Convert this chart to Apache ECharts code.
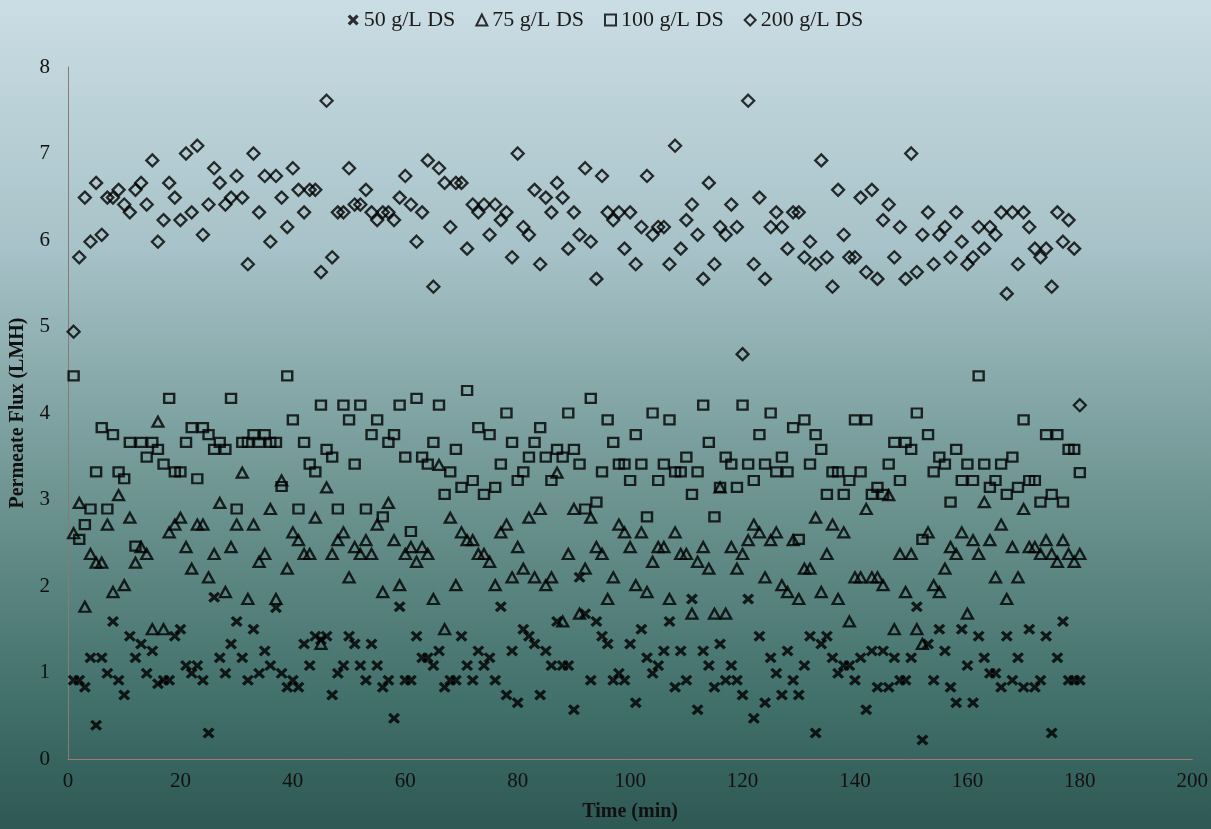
<!DOCTYPE html>
<html>
<head>
<meta charset="utf-8">
<title>Permeate Flux</title>
<script src="https://cdn.jsdelivr.net/npm/echarts@6/dist/echarts.min.js"></script>
<style>
  html, body { margin: 0; padding: 0; }
  #chart { width: 1211px; height: 829px; }
</style>
</head>
<body>
<div id="chart"></div>
<script>
// one reading per minute, starting at minute 1
const seriesNames = ["50 g/L DS", "75 g/L DS", "100 g/L DS", "200 g/L DS"];

const flux50 = [
  0.91, 0.91, 0.83, 1.17, 0.39, 1.17, 0.99, 1.59, 0.91, 0.74,
  1.42, 1.17, 1.33, 0.99, 1.25, 0.87, 0.91, 0.91, 1.42, 1.50,
  1.08, 0.99, 1.08, 0.91, 0.30, 1.87, 1.17, 0.99, 1.33, 1.59,
  1.17, 0.91, 1.50, 0.99, 1.25, 1.08, 1.75, 0.99, 0.83, 0.91,
  0.83, 1.33, 1.08, 1.42, 1.38, 1.42, 0.74, 0.99, 1.08, 1.42,
  1.33, 1.08, 0.91, 1.33, 1.08, 0.83, 0.91, 0.47, 1.76, 0.91,
  0.91, 1.42, 1.17, 1.17, 1.08, 1.25, 0.83, 0.91, 0.91, 1.42,
  1.08, 0.91, 1.25, 1.08, 1.17, 0.91, 1.76, 0.74, 1.25, 0.65,
  1.50, 1.42, 1.33, 0.74, 1.25, 1.08, 1.59, 1.08, 1.08, 0.57,
  2.10, 1.68, 0.91, 1.59, 1.42, 1.33, 0.91, 0.99, 0.91, 1.33,
  0.65, 1.50, 1.17, 0.99, 1.08, 1.25, 1.59, 0.83, 1.25, 0.91,
  1.85, 0.57, 1.25, 1.08, 0.83, 1.33, 0.91, 1.08, 0.91, 0.74,
  1.85, 0.47, 1.42, 0.65, 1.17, 0.99, 0.74, 1.25, 0.91, 0.74,
  1.08, 1.42, 0.30, 1.33, 1.42, 1.17, 0.99, 1.08, 1.08, 0.91,
  1.17, 0.57, 1.25, 0.83, 1.25, 0.83, 1.17, 0.91, 0.91, 1.17,
  1.76, 0.22, 1.33, 0.91, 1.50, 1.25, 0.83, 0.65, 1.50, 1.08,
  0.65, 1.42, 1.17, 0.99, 0.99, 0.83, 1.42, 0.91, 1.17, 0.83,
  1.50, 0.83, 0.91, 1.42, 0.30, 1.17, 1.59, 0.91, 0.91, 0.91
];

const flux75 = [
  2.61, 2.96, 1.76, 2.37, 2.27, 2.27, 2.71, 1.93, 3.05, 2.01,
  2.79, 2.27, 2.45, 2.37, 1.50, 3.90, 1.50, 2.62, 2.71, 2.79,
  2.45, 2.20, 2.71, 2.71, 2.10, 2.37, 2.96, 1.93, 2.45, 2.71,
  3.31, 1.85, 2.71, 2.28, 2.37, 2.89, 1.85, 3.22, 2.20, 2.62,
  2.53, 2.37, 2.37, 2.79, 1.33, 3.14, 2.37, 2.53, 2.62, 2.10,
  2.45, 2.37, 2.53, 2.37, 2.71, 1.93, 2.96, 2.53, 2.01, 2.37,
  2.45, 2.28, 2.45, 2.37, 1.85, 3.40, 1.50, 2.79, 2.01, 2.62,
  2.53, 2.53, 2.37, 2.37, 2.28, 2.01, 2.62, 2.71, 2.10, 2.45,
  2.20, 2.79, 2.10, 2.89, 2.01, 2.10, 3.31, 1.59, 2.37, 2.89,
  1.68, 2.20, 2.79, 2.45, 2.37, 1.85, 2.10, 2.71, 2.62, 2.45,
  2.01, 2.62, 1.93, 2.28, 2.45, 2.45, 1.85, 2.62, 2.37, 2.37,
  1.68, 2.28, 2.45, 2.20, 1.68, 3.14, 1.68, 2.45, 2.20, 2.37,
  2.53, 2.71, 2.62, 2.10, 2.53, 2.62, 2.01, 1.93, 2.53, 1.85,
  2.20, 2.20, 2.79, 1.93, 2.37, 2.71, 1.85, 2.62, 1.59, 2.10,
  2.10, 2.89, 2.10, 2.10, 2.01, 3.05, 1.50, 2.37, 1.93, 2.37,
  1.50, 1.33, 2.62, 2.01, 1.93, 2.20, 2.45, 2.37, 2.62, 1.68,
  2.53, 2.37, 2.97, 2.53, 2.10, 2.71, 1.85, 2.45, 2.10, 2.89,
  2.45, 2.45, 2.37, 2.53, 2.37, 2.28, 2.53, 2.37, 2.28, 2.37
];

const flux100 = [
  4.43, 2.54, 2.71, 2.89, 3.32, 3.83, 2.89, 3.75, 3.32, 3.24,
  3.66, 2.46, 3.66, 3.49, 3.66, 3.58, 3.41, 4.17, 3.32, 3.32,
  3.66, 3.83, 3.24, 3.83, 3.75, 3.58, 3.66, 3.58, 4.17, 2.89,
  3.66, 3.66, 3.75, 3.66, 3.75, 3.66, 3.66, 3.15, 4.43, 3.92,
  2.89, 3.66, 3.41, 3.32, 4.09, 3.58, 3.49, 2.89, 4.09, 3.92,
  3.41, 4.09, 2.89, 3.75, 3.92, 2.80, 3.66, 3.75, 4.09, 3.49,
  2.63, 4.17, 3.49, 3.41, 3.66, 4.09, 3.06, 3.32, 3.58, 3.14,
  4.26, 3.22, 3.83, 3.06, 3.75, 3.14, 3.41, 4.00, 3.66, 3.22,
  3.32, 3.49, 3.66, 3.83, 3.49, 3.22, 3.58, 3.49, 4.00, 3.58,
  3.41, 2.89, 4.17, 2.97, 3.32, 3.92, 3.66, 3.41, 3.41, 3.22,
  3.75, 3.41, 2.80, 4.00, 3.22, 3.41, 3.92, 3.32, 3.32, 3.49,
  3.06, 3.32, 4.09, 3.66, 2.80, 3.14, 3.49, 3.41, 3.14, 4.09,
  3.41, 3.22, 3.75, 3.41, 4.00, 3.32, 3.49, 3.32, 3.83, 2.54,
  3.92, 3.41, 3.75, 3.58, 3.06, 3.32, 3.32, 3.06, 3.22, 3.92,
  3.32, 3.92, 3.06, 3.14, 3.06, 3.41, 3.66, 3.22, 3.66, 3.58,
  4.00, 2.54, 3.75, 3.32, 3.49, 3.41, 2.97, 3.58, 3.22, 3.41,
  3.22, 4.43, 3.41, 3.14, 3.22, 3.41, 3.06, 3.49, 3.14, 3.92,
  3.22, 3.22, 2.97, 3.75, 3.06, 3.75, 2.97, 3.58, 3.58, 3.31
];

const flux200 = [
  4.94, 5.80, 6.49, 5.98, 6.66, 6.06, 6.49, 6.49, 6.58, 6.41,
  6.32, 6.58, 6.66, 6.41, 6.92, 5.98, 6.23, 6.66, 6.49, 6.23,
  7.00, 6.32, 7.09, 6.06, 6.41, 6.83, 6.66, 6.41, 6.49, 6.74,
  6.49, 5.72, 7.00, 6.32, 6.74, 5.98, 6.74, 6.49, 6.15, 6.83,
  6.58, 6.32, 6.58, 6.58, 5.63, 7.61, 5.80, 6.32, 6.32, 6.83,
  6.41, 6.41, 6.58, 6.32, 6.23, 6.32, 6.32, 6.23, 6.49, 6.74,
  6.41, 5.98, 6.32, 6.92, 5.46, 6.83, 6.66, 6.15, 6.66, 6.66,
  5.90, 6.41, 6.32, 6.41, 6.06, 6.41, 6.23, 6.32, 5.80, 7.00,
  6.15, 6.06, 6.58, 5.72, 6.49, 6.32, 6.66, 6.49, 5.90, 6.32,
  6.06, 6.83, 5.98, 5.55, 6.74, 6.32, 6.23, 6.32, 5.90, 6.32,
  5.72, 6.15, 6.74, 6.06, 6.15, 6.15, 5.72, 7.09, 5.90, 6.23,
  6.41, 6.06, 5.55, 6.66, 5.72, 6.15, 6.06, 6.41, 6.15, 4.68,
  7.61, 5.72, 6.49, 5.55, 6.15, 6.32, 6.15, 5.90, 6.32, 6.32,
  5.80, 5.98, 5.72, 6.92, 5.80, 5.46, 6.58, 6.06, 5.80, 5.80,
  6.49, 5.63, 6.58, 5.55, 6.23, 6.41, 5.80, 6.15, 5.55, 7.00,
  5.63, 6.06, 6.32, 5.72, 6.06, 6.15, 5.80, 6.32, 5.98, 5.72,
  5.80, 6.15, 5.90, 6.15, 6.06, 6.32, 5.38, 6.32, 5.72, 6.32,
  6.15, 5.90, 5.80, 5.90, 5.46, 6.32, 5.98, 6.23, 5.90, 4.09
];

const xTicks = { min: 0, max: 200, interval: 20 };
const yTicks = { min: 0, max: 8, interval: 1 };

// pair each reading with its minute
const toPoints = (vals) => vals.map((v, i) => [i + 1, v]);

const crossPath = "path://M0,2L2,0L5,3L8,0L10,2L7,5L10,8L8,10L5,7L2,10L0,8L3,5Z";
const serifFont = "'Liberation Serif', 'Times New Roman', serif";

const chart = echarts.init(document.getElementById("chart"));

const hollow = {
    color: "rgba(0,0,0,0)",
    borderColor: "#000",
    borderWidth: 2.3,
};

const option = {
    animation: false,
    backgroundColor: {
        type: "linear",
        x: 0, y: 0, x2: 0, y2: 1,
        colorStops: [
            { offset: 0, color: "#cbdde5" },
            { offset: 0.3, color: "#a7c2c8" },
            { offset: 0.6, color: "#6d9491" },
            { offset: 0.85, color: "#416f6a" },
            { offset: 1, color: "#2e5853" },
        ],
    },
    textStyle: { fontFamily: serifFont },
    legend: {
        top: 4,
        left: "center",
        itemWidth: 11,
        itemHeight: 11,
        itemGap: 20,
        textStyle: { fontFamily: serifFont, fontSize: 22, color: "#1a1a1a" },
        data: seriesNames,
    },
    grid: {
        left: 66,
        right: 17,
        top: 67,
        bottom: 70,
        containLabel: false,
    },
    xAxis: {
        type: "value",
        min: xTicks.min,
        max: xTicks.max,
        interval: xTicks.interval,
        name: "Time (min)",
        nameLocation: "middle",
        nameGap: 43,
        nameTextStyle: { fontFamily: serifFont, fontSize: 20, fontWeight: "bold", color: "#111" },
        axisLine: { lineStyle: { color: "#a77474", width: 1 } },
        axisTick: { show: false },
        axisLabel: { fontFamily: serifFont, fontSize: 21, color: "#111", margin: 12 },
        splitLine: { show: false },
    },
    yAxis: {
        type: "value",
        min: yTicks.min,
        max: yTicks.max,
        interval: yTicks.interval,
        name: "Permeate Flux (LMH)",
        nameLocation: "middle",
        nameGap: 40,
        nameTextStyle: { fontFamily: serifFont, fontSize: 20, fontWeight: "bold", color: "#111" },
        axisLine: { show: true, lineStyle: { color: "#857b7b", width: 1 } },
        axisTick: { show: false },
        axisLabel: { fontFamily: serifFont, fontSize: 21, color: "#111", margin: 18 },
        splitLine: { show: false },
    },
    series: [
        {
            name: seriesNames[0],
            type: "scatter",
            symbol: crossPath,
            symbolSize: [12, 11],
            itemStyle: { color: "#000" },
            data: toPoints(flux50),
        },
        {
            name: seriesNames[1],
            type: "scatter",
            symbol: "triangle",
            symbolSize: [11, 10],
            itemStyle: hollow,
            data: toPoints(flux75),
        },
        {
            name: seriesNames[2],
            type: "scatter",
            symbol: "rect",
            symbolSize: [10, 9],
            itemStyle: hollow,
            data: toPoints(flux100),
        },
        {
            name: seriesNames[3],
            type: "scatter",
            symbol: "diamond",
            symbolSize: [12, 12],
            itemStyle: hollow,
            data: toPoints(flux200),
        },
    ],
};

chart.setOption(option);
window.addEventListener("resize", () => chart.resize());
</script>
</body>
</html>
